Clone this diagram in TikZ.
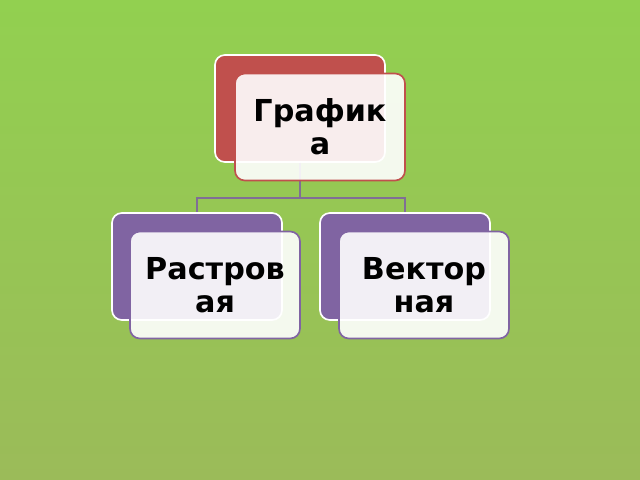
\documentclass[tikz,border=0pt]{standalone}
\usepackage{fontspec}
\setmainfont{DejaVu Sans}
\definecolor{bgtop}{RGB}{146,208,80}
\definecolor{bgbot}{RGB}{155,187,89}
\definecolor{redacc}{RGB}{192,80,77}
\definecolor{purpacc}{RGB}{128,100,162}
\definecolor{linecol}{RGB}{128,110,150}
\begin{document}
\begin{tikzpicture}[x=0.025cm,y=-0.025cm,
  backbox/.style={draw=white,line width=1.2pt,rounded corners=7pt,minimum width=170*0.025cm,minimum height=107*0.025cm,inner sep=0pt},
  frontbox/.style={line width=1.2pt,rounded corners=7pt,fill=white,fill opacity=0.9,text opacity=1,minimum width=170*0.025cm,minimum height=107*0.025cm,inner sep=0pt,align=center,font=\bfseries\fontsize{21.5}{23.5}\selectfont},
  conn/.style={draw=linecol,line width=1pt}]
\useasboundingbox (0,0) rectangle (640,480);
\shade[top color=bgtop,bottom color=bgbot] (0,0) rectangle (640,480);
% back boxes
\node[backbox,fill=redacc] (gB) at (300,108.5) {};
\node[backbox,fill=purpacc] (rB) at (197,266.5) {};
\node[backbox,fill=purpacc] (vB) at (405,266.5) {};
% connectors
\coordinate (j) at (300,198);
\draw[conn] (gB.south) -- (j) -| (rB.north);
\draw[conn] (j) -| (vB.north);
% front boxes
\node[frontbox,draw=redacc] (gF) at (320,127) {График\\а};
\node[frontbox,draw=purpacc] (rF) at (215,285) {Растров\\ая};
\node[frontbox,draw=purpacc] (vF) at (424,285) {Вектор\\ная};
\end{tikzpicture}
\end{document}
